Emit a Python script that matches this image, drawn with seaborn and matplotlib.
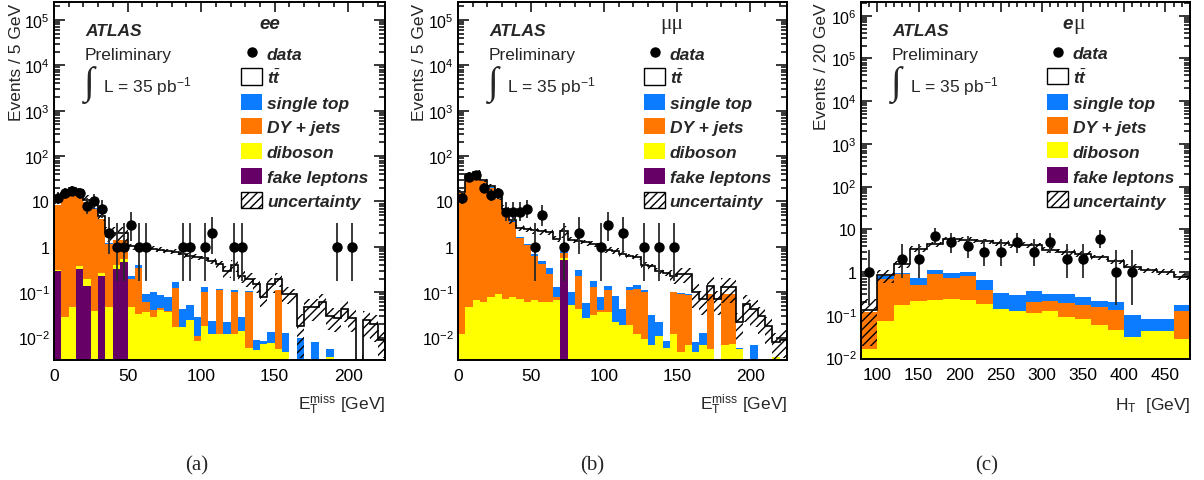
import numpy as np
import pandas as pd
import matplotlib
matplotlib.use("Agg")
import matplotlib.pyplot as plt
from matplotlib.patches import Rectangle
from matplotlib.ticker import MultipleLocator, LogLocator, FuncFormatter, NullFormatter
import seaborn as sns
from math import exp

# ---------------- binning ----------------
met_edges = np.arange(0, 226, 5)    # E_T^miss, 5 GeV bins (45 bins)
ht_edges = np.arange(80, 481, 20)   # H_T, 20 GeV bins (20 bins)

# ---------------- ee channel (E_T^miss) ----------------
ee_data = [12, 15, 17, 15, 8, 10, 7, 2, 1, 1,
           3, 1, 1, 0, 0, 0, 0, 1, 1, 0,
           1, 2, 0, 0, 1, 1, 0, 0, 0, 0,
           0, 0, 0, 0, 0, 0, 0, 0, 1, 0,
           1, 0, 0, 0, 0]
ee_fake = [0.30, 0, 0, 0.33, 0.14, 0, 0.225, 0, 0.33, 0.46,
           0, 0, 0, 0, 0, 0, 0, 0, 0, 0,
           0, 0, 0, 0, 0, 0, 0, 0, 0, 0,
           0, 0, 0, 0, 0, 0, 0, 0, 0, 0,
           0, 0, 0, 0, 0]
ee_diboson = [0.005, 0.029, 0.047, 0.04, 0.06, 0.039, 0.045, 0.047, 0.06, 0.07,
              0.047, 0.033, 0.036, 0.028, 0.041, 0.036, 0.017, 0.017, 0.025, 0.0085,
              0.018, 0.012, 0.012, 0.012, 0.012, 0.014, 0.006, 0.0052, 0.0071, 0.0076,
              0.0055, 0.0048, 0, 0, 0, 0, 0, 0.0037, 0, 0,
              0, 0, 0, 0, 0]
ee_dy = [8.1, 13.5, 18.3, 15.6, 9.6, 6.9, 3.8, 1.11, 0.99, 0.85,
         0.15, 0.30, 0.024, 0.012, 0.003, 0.003, 0.105, 0, 0, 0.0025,
         0.082, 0, 0.098, 0, 0.088, 0, 0.094, 0, 0, 0,
         0.104, 0, 0, 0, 0, 0, 0, 0, 0, 0,
         0, 0, 0, 0, 0]
ee_single_top = [0.1, 0.1, 0.12, 0.1, 0.1, 0.08, 0.06, 0.05, 0.05, 0.05,
                 0.025, 0.07, 0.032, 0.06, 0.041, 0.039, 0.048, 0.026, 0.028, 0.018,
                 0.03, 0.011, 0.008, 0.01, 0.01, 0.015, 0.005, 0.0038, 0.0013, 0.0056,
                 0.005, 0.0078, 0, 0.01, 0, 0.008, 0, 0.0019, 0, 0,
                 0, 0, 0, 0, 0]
ee_ttbar = [1.5, 1.87, 1.53, 1.43, 1.1, 1.18, 0.77, 0.79, 0.57, 0.57,
            0.80, 0.6, 0.86, 0.8, 0.775, 0.72, 0.59, 0.637, 0.587, 0.561,
            0.43, 0.476, 0.302, 0.27, 0.28, 0.2, 0.095, 0.141, 0.071, 0.136,
            0.085, 0.080, 0.089, 0.008, 0.047, 0.039, 0.06, 0.024, 0.027, 0.043,
            0.027, 0, 0.024, 0.02, 0.009]
ee_rel_unc = [0.1, 0.1, 0.1, 0.12, 0.25, 0.25, 0.25, 0.35, 0.35, 0.35,
              0.15, 0.15, 0.15, 0.15, 0.15, 0.15, 0.15, 0.15, 0.15, 0.15,
              0.15, 0.15, 0.18, 0.3, 0.3, 0.3, 0.35, 0.35, 0.4, 0.35,
              0.35, 0.4, 0.35, 0.8, 0.5, 0.5, 0.5, 0.5, 0.5, 0.5,
              0.5, 0, 0.6, 0.6, 0.6]

# ---------------- mumu channel (E_T^miss) ----------------
mm_data = [12, 34, 39, 20, 14, 15, 6, 6, 6, 7,
           1, 5, 0, 0, 1, 0, 2, 0, 0, 1,
           3, 0, 2, 0, 0, 1, 0, 1, 0, 1,
           0, 0, 0, 0, 0, 0, 0, 0, 0, 0,
           0, 0, 0, 0, 0]
mm_fake = [0, 0, 0, 0, 0, 0, 0, 0, 0, 0,
           0, 0, 0, 0, 0.52, 0, 0, 0, 0, 0,
           0, 0, 0, 0, 0, 0, 0, 0, 0, 0,
           0, 0, 0, 0, 0, 0, 0, 0, 0, 0,
           0, 0, 0, 0, 0]
mm_diboson = [0.012, 0.047, 0.066, 0.06, 0.077, 0.092, 0.071, 0.077, 0.071, 0.062,
              0.066, 0.06, 0.06, 0.066, 0.04, 0.051, 0.043, 0.027, 0.031, 0.036,
              0.036, 0.022, 0.019, 0.019, 0.012, 0.0093, 0.0067, 0.011, 0.006, 0.012,
              0.0047, 0.0069, 0.0047, 0.0069, 0.0055, 0, 0.0067, 0.0073, 0.0056, 0,
              0, 0, 0, 0.0037, 0]
mm_dy = [15, 38, 42, 28, 20, 11, 6, 3.4, 1.5, 1.05,
         0.55, 0.36, 0.19, 0.011, 0.18, 0, 0.18, 0, 0.1, 0.005,
         0.074, 0, 0, 0.091, 0.108, 0.091, 0, 0, 0, 0.088,
         0.085, 0.078, 0, 0, 0.085, 0, 0.083, 0.083, 0, 0,
         0, 0, 0, 0, 0]
mm_single_top = [0.2, 0.4, 0.4, 0.3, 0.3, 0.25, 0.2, 0.15, 0.1, 0.05,
                 0.08, 0.06, 0.09, 0.053, 0.09, 0.05, 0.085, 0.03, 0.05, 0.036,
                 0.03, 0.062, 0.024, 0.02, 0.025, 0.01, 0.024, 0.011, 0.0025, 0.003,
                 0.005, 0.005, 0.0033, 0.006, 0.003, 0, 0, 0, 0.0004, 0,
                 0.0067, 0, 0, 0, 0]
mm_ttbar = [0.79, 1.55, 1.53, 1.64, 1.62, 1.16, 0.73, 0.27, 0.93, 1.34,
            1.6, 1.72, 1.76, 1.37, 1.37, 1.35, 1.04, 1.19, 0.97, 0.97,
            0.71, 0.72, 0.66, 0.49, 0.455, 0.29, 0.34, 0.278, 0.26, 0.127,
            0.155, 0.16, 0.092, 0.057, 0.046, 0.07, 0.04, 0.04, 0.016, 0.055,
            0.036, 0.03, 0.018, 0.0043, 0.009]
mm_rel_unc = [0.1, 0.1, 0.1, 0.1, 0.1, 0.12, 0.18, 0.18, 0.15, 0.15,
              0.15, 0.15, 0.15, 0.15, 0.3, 0.15, 0.15, 0.15, 0.15, 0.15,
              0.15, 0.15, 0.15, 0.15, 0.15, 0.15, 0.15, 0.15, 0.15, 0.35,
              0.35, 0.35, 0.55, 0.55, 0.55, 0.55, 0.55, 0.55, 0.6, 0.6,
              0.6, 0.6, 0.6, 0.6, 0.6]

# ---------------- emu channel (H_T) ----------------
em_data = [1, 0, 2, 2, 7, 5, 4, 3, 3, 5, 3, 5, 2, 2, 6, 1, 1, 0, 0, 0]
em_fake = [0, 0, 0, 0, 0, 0, 0, 0, 0, 0, 0, 0, 0, 0, 0, 0, 0, 0, 0, 0]
em_diboson = [0.016, 0.07, 0.17, 0.21, 0.22, 0.23, 0.22, 0.18, 0.137, 0.124,
              0.107, 0.12, 0.088, 0.078, 0.058, 0.044, 0.03, 0.041, 0.041, 0.027]
em_dy = [0.099, 0.61, 0.71, 0.28, 0.67, 0.49, 0.59, 0.19, 0, 0,
         0.093, 0.09, 0.102, 0.092, 0.092, 0.086, 0, 0, 0, 0.093]
em_single_top = [0, 0.14, 0.05, 0.23, 0.23, 0.25, 0.21, 0.27, 0.193, 0.166,
                 0.16, 0.1, 0.12, 0.09, 0.06, 0.07, 0.067, 0.037, 0.039, 0.045]
em_ttbar = [0.011, 0.015, 0.62, 2.78, 3.38, 4.83, 4.58, 4.56, 4.47, 4.11,
            3.84, 2.99, 2.69, 2.44, 1.99, 1.6, 1.25, 1.02, 0.94, 0.6]
em_rel_unc = [0.85, 0.35, 0.2, 0.15, 0.15, 0.15, 0.15, 0.15, 0.15, 0.15,
              0.15, 0.15, 0.15, 0.15, 0.15, 0.15, 0.15, 0.15, 0.15, 0.15]

# ---------------- style ----------------
PROCESSES = ["ttbar", "single top", "DY + jets", "diboson", "fake leptons"]
COLORS = {"ttbar": "#FFFFFF", "single top": "#0B7BFF", "DY + jets": "#FF7700",
          "diboson": "#FFFF00", "fake leptons": "#660066"}

sns.set_theme(style="ticks")
plt.rcParams.update({
    "font.family": ["Liberation Sans", "DejaVu Sans"],
    "mathtext.fontset": "custom",
    "mathtext.rm": "Liberation Sans",
    "mathtext.it": "Liberation Sans:italic:bold",
    "mathtext.bf": "Liberation Sans:bold",
    "hatch.linewidth": 1.0,
    "axes.linewidth": 1.4,
    "axes.edgecolor": "black",
    "figure.facecolor": "white",
    "axes.facecolor": "white",
})
FS = 12.5


def poisson_cdf(k, mu):
    term = exp(-mu)
    s = term
    for i in range(1, k + 1):
        term *= mu / i
        s += term
    return s


def garwood_interval(n, cl=0.6827):
    a = (1 - cl) / 2
    if n == 0:
        low = 0.0
    else:
        lo, hi = 0.0, float(n)
        for _ in range(60):
            mid = 0.5 * (lo + hi)
            if poisson_cdf(n - 1, mid) > 1 - a:
                lo = mid
            else:
                hi = mid
        low = 0.5 * (lo + hi)
    lo, hi = float(n), n + 10 + 5 * np.sqrt(n)
    for _ in range(60):
        mid = 0.5 * (lo + hi)
        if poisson_cdf(n, mid) > a:
            lo = mid
        else:
            hi = mid
    return low, 0.5 * (lo + hi)


def log_label(v, pos):
    e = int(round(np.log10(v)))
    if e == 0:
        return "1"
    if e == 1:
        return "10"
    return r"$\mathrm{10^{%d}}$" % e


def draw_panel(ax, edges, data, comps, rel_unc, xlim, ylim):
    centers = 0.5 * (edges[:-1] + edges[1:])
    df = pd.concat([pd.DataFrame({"x": centers, "w": np.asarray(comps[p], float), "process": p})
                    for p in PROCESSES], ignore_index=True)
    sns.histplot(data=df, x="x", weights="w", hue="process", hue_order=PROCESSES,
                 palette=COLORS, multiple="stack", bins=edges.tolist(), element="bars",
                 linewidth=0, alpha=1, legend=False, ax=ax)
    total = np.sum([np.asarray(comps[p], float) for p in PROCESSES], axis=0)
    unc = np.asarray(rel_unc, float)
    ax.stairs(total * (1 + unc), edges, baseline=total * (1 - unc), fill=True,
              facecolor="none", edgecolor="black", hatch="////", linewidth=0, zorder=3)
    ax.stairs(total, edges, color="black", linewidth=1.2, zorder=4)

    n = np.asarray(data)
    sel = n > 0
    bounds = np.array([garwood_interval(int(k)) for k in n])
    ax.errorbar(centers[sel], n[sel],
                yerr=[n[sel] - bounds[sel, 0], bounds[sel, 1] - n[sel]],
                fmt="o", color="black", ecolor="#2a2a2a", ms=6.5, elinewidth=1.3,
                capsize=0, zorder=6)

    ax.set_yscale("log")
    ax.set_xlim(*xlim)
    ax.set_ylim(*ylim)
    ax.set_xlabel("")
    ax.set_ylabel("")
    ax.xaxis.set_major_locator(MultipleLocator(50))
    ax.xaxis.set_minor_locator(MultipleLocator(10))
    ax.yaxis.set_major_locator(LogLocator(base=10, numticks=20))
    ax.yaxis.set_minor_locator(LogLocator(base=10, subs=np.arange(2, 10), numticks=20))
    ax.yaxis.set_major_formatter(FuncFormatter(log_label))
    ax.yaxis.set_minor_formatter(NullFormatter())
    ax.tick_params(which="both", direction="in", top=True, right=True, width=1.1,
                   colors="black")
    ax.tick_params(axis="x", which="major", length=7, pad=6, labelsize=FS)
    ax.tick_params(axis="x", which="minor", length=3.5)
    ax.tick_params(axis="y", which="major", length=8, pad=3, labelsize=11.5)
    ax.tick_params(axis="y", which="minor", length=4)
    for s in ax.spines.values():
        s.set_zorder(10)


def draw_labels(ax):
    t = ax.transAxes
    ax.text(0.094, 0.908, "ATLAS", transform=t, fontsize=FS, fontweight="bold",
            fontstyle="italic", va="baseline")
    ax.text(0.094, 0.841, "Preliminary", transform=t, fontsize=FS, va="baseline")
    ax.text(0.106, 0.771, "\u222b", transform=t, family="Liberation Serif",
            fontsize=28, ha="center", va="center")
    ax.text(0.148, 0.749, r"L = 35 pb$^{\mathrm{-1}}$", transform=t, fontsize=FS, va="baseline")

    rows = [0.860, 0.792, 0.721, 0.654, 0.585, 0.515, 0.447]
    labels = ["data", r"$t\bar{t}$", "single top", "DY + jets", "diboson",
              "fake leptons", "uncertainty"]
    ax.plot([0.598], [rows[0]], "o", color="black", ms=6.5, transform=t, clip_on=False)
    boxes = [("#FFFFFF", "black", None), (COLORS["single top"], "none", None),
             (COLORS["DY + jets"], "none", None), (COLORS["diboson"], "none", None),
             (COLORS["fake leptons"], "none", None), ("#FFFFFF", "black", "////")]
    for r, (fc, ec, h) in zip(rows[1:], boxes):
        ax.add_patch(Rectangle((0.565, r - 0.0225), 0.063, 0.045, transform=t,
                               facecolor=fc, edgecolor=ec, hatch=h, linewidth=1.0,
                               zorder=7, clip_on=False))
    for r, lab in zip(rows, labels):
        ax.text(0.643, r - 0.018, lab, transform=t, fontsize=FS, fontweight="bold",
                fontstyle="italic", va="baseline")


fig = plt.figure(figsize=(12.04, 4.81), dpi=100)
ax_ee = fig.add_axes([54 / 1204, 120 / 481, 331 / 1204, 358 / 481])
ax_mm = fig.add_axes([458 / 1204, 120 / 481, 329 / 1204, 358 / 481])
ax_em = fig.add_axes([861 / 1204, 121 / 481, 329 / 1204, 357 / 481])

draw_panel(ax_ee, met_edges, ee_data,
           {"ttbar": ee_ttbar, "single top": ee_single_top, "DY + jets": ee_dy,
            "diboson": ee_diboson, "fake leptons": ee_fake},
           ee_rel_unc, (0, 225), (0.0032, 2.5e5))
draw_panel(ax_mm, met_edges, mm_data,
           {"ttbar": mm_ttbar, "single top": mm_single_top, "DY + jets": mm_dy,
            "diboson": mm_diboson, "fake leptons": mm_fake},
           mm_rel_unc, (0, 225), (0.0032, 2.5e5))
draw_panel(ax_em, ht_edges, em_data,
           {"ttbar": em_ttbar, "single top": em_single_top, "DY + jets": em_dy,
            "diboson": em_diboson, "fake leptons": em_fake},
           em_rel_unc, (80, 480), (0.0092, 2.1e6))

for ax in (ax_ee, ax_mm, ax_em):
    draw_labels(ax)

ax_ee.text(0.653, 0.926, "ee", transform=ax_ee.transAxes, fontsize=FS + 1,
           fontweight="bold", fontstyle="italic", ha="center", va="baseline")
ax_mm.text(0.649, 0.926, "\u03bc\u03bc", transform=ax_mm.transAxes, fontsize=15.5,
           family="Liberation Serif", ha="center", va="baseline")
ax_em.text(0.644, 0.926, "e", transform=ax_em.transAxes, fontsize=FS + 1,
           fontweight="bold", fontstyle="italic", ha="right", va="baseline")
ax_em.text(0.646, 0.926, "\u03bc", transform=ax_em.transAxes, fontsize=15.5,
           family="Liberation Serif", ha="left", va="baseline")

# axis titles
fig.text(16.5 / 1204, 0.992, "Events / 5 GeV", rotation=90, ha="center", va="top", fontsize=FS)
fig.text(420 / 1204, 0.992, "Events / 5 GeV", rotation=90, ha="center", va="top", fontsize=FS)
fig.text(822 / 1204, 0.992, "Events / 20 GeV", rotation=90, ha="center", va="top", fontsize=FS)
fig.text(385 / 1204, 0.158, r"$\mathrm{E_T^{miss}}$ [GeV]", ha="right", va="center", fontsize=FS)
fig.text(787 / 1204, 0.158, r"$\mathrm{E_T^{miss}}$ [GeV]", ha="right", va="center", fontsize=FS)
fig.text(1190 / 1204, 0.158, r"$\mathrm{H_T}$  [GeV]", ha="right", va="center", fontsize=FS)

# sub-figure captions
for x, cap in ((197, "(a)"), (592, "(b)"), (987, "(c)")):
    fig.text(x / 1204, 15 / 481, cap, family="Liberation Serif", fontsize=15,
             ha="center", va="center")

fig.savefig("out.png", dpi=100)
